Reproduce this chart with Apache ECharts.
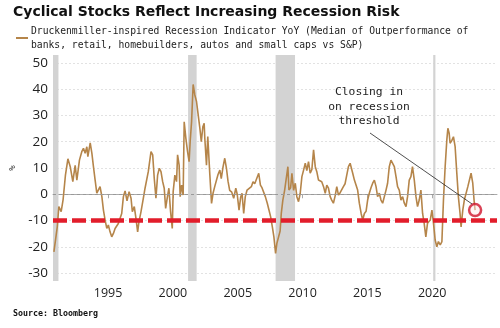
<!DOCTYPE html>
<html><head><meta charset="utf-8">
<script src="https://cdn.jsdelivr.net/npm/echarts@6/dist/echarts.min.js"></script>
<style>html,body{margin:0;padding:0;background:#fff}#c{width:500px;height:328px}</style>
</head><body><div id="c"></div>
<script>
const titleText = 'Cyclical Stocks Reflect Increasing Recession Risk';
const seriesName = 'Druckenmiller-inspired Recession Indicator YoY (Median of Outperformance of\nbanks, retail, homebuilders, autos and small caps vs S&P)';
const sourceText = 'Source: Bloomberg';
const annotationText = 'Closing in\non recession\nthreshold';
const xTicks = [1995, 2000, 2005, 2010, 2015, 2020];
const yTicks = [-30, -20, -10, 0, 10, 20, 30, 40, 50];
const threshold = -10;
const recessions = [[1990.58, 1991.17], [2001.17, 2001.83], [2007.92, 2009.42], [2020.08, 2020.25]];
const years = [1990.82,1991.08,1991.2,1991.38,1991.53,1991.71,1991.9,1992.08,1992.28,1992.46,1992.59,1992.79,1992.97,1993.1,1993.23,1993.36,1993.44,1993.62,1993.75,1993.87,1994.0,1994.13,1994.25,1994.38,1994.52,1994.64,1994.77,1994.9,1995.02,1995.15,1995.28,1995.41,1995.54,1995.67,1995.79,1995.92,1996.05,1996.18,1996.31,1996.46,1996.62,1996.77,1996.87,1997.02,1997.15,1997.28,1997.38,1997.54,1997.72,1997.85,1997.98,1998.1,1998.31,1998.44,1998.56,1998.69,1998.82,1998.95,1999.08,1999.21,1999.33,1999.44,1999.56,1999.69,1999.82,1999.95,2000.02,2000.15,2000.28,2000.36,2000.48,2000.56,2000.67,2000.79,2000.87,2001.0,2001.13,2001.25,2001.33,2001.44,2001.56,2001.69,2001.82,2001.95,2002.08,2002.19,2002.31,2002.41,2002.46,2002.59,2002.69,2002.85,2002.98,2003.1,2003.23,2003.48,2003.62,2003.73,2003.87,2004.0,2004.13,2004.25,2004.38,2004.54,2004.69,2004.85,2004.96,2005.1,2005.23,2005.33,2005.46,2005.58,2005.72,2005.85,2006.05,2006.18,2006.31,2006.44,2006.62,2006.75,2006.87,2007.0,2007.13,2007.28,2007.41,2007.54,2007.67,2007.79,2007.92,2008.02,2008.15,2008.27,2008.36,2008.48,2008.62,2008.75,2008.87,2008.95,2009.08,2009.18,2009.31,2009.44,2009.56,2009.69,2009.82,2009.95,2010.08,2010.21,2010.33,2010.46,2010.59,2010.72,2010.85,2010.98,2011.1,2011.23,2011.36,2011.48,2011.62,2011.75,2011.87,2012.0,2012.13,2012.25,2012.38,2012.52,2012.64,2012.77,2012.9,2013.02,2013.15,2013.28,2013.41,2013.54,2013.67,2013.79,2013.87,2014.0,2014.13,2014.25,2014.38,2014.52,2014.64,2014.77,2014.9,2015.02,2015.15,2015.28,2015.41,2015.54,2015.67,2015.79,2015.92,2016.05,2016.18,2016.31,2016.44,2016.56,2016.69,2016.82,2016.95,2017.08,2017.21,2017.33,2017.46,2017.59,2017.72,2017.85,2017.98,2018.1,2018.23,2018.36,2018.48,2018.62,2018.75,2018.87,2019.0,2019.13,2019.26,2019.38,2019.51,2019.64,2019.85,2019.98,2020.1,2020.23,2020.36,2020.48,2020.62,2020.75,2020.87,2021.0,2021.13,2021.21,2021.31,2021.38,2021.52,2021.64,2021.77,2021.9,2022.02,2022.15,2022.23,2022.36,2022.48,2022.62,2022.75,2022.87,2023.0,2023.13,2023.25,2023.31];
const values = [-21.9,-12.4,-4.7,-6.6,-2.0,7.3,13.5,10.5,4.8,11.0,5.4,13.0,16.2,17.5,15.6,18.1,14.3,19.6,15.6,10.5,5.4,0.4,-0.3,2.9,-0.9,-6.0,-9.8,-13.0,-11.7,-14.3,-16.2,-14.9,-13.0,-13.6,-11.1,-9.2,-7.3,-0.9,1.3,-2.5,1.0,-1.5,-6.6,-4.7,-9.2,-14.3,-10.5,-6.6,-1.5,2.3,2.3,8.6,16.2,15.0,6.1,-1.5,7.3,9.9,8.6,4.8,2.3,-5.4,-1.5,2.3,-6.6,-13.0,1.0,7.3,4.8,15.0,11.1,-0.9,3.5,-0.3,27.6,21.3,16.2,12.4,20.0,27.6,41.8,37.8,35.3,30.2,25.1,20.0,25.7,27.0,21.3,11.1,22.0,7.3,-3.5,0.5,3.0,7.5,9.2,6.0,10.5,13.7,9.9,5.0,1.5,0.8,-1.5,2.3,0.0,-6.0,-1.0,0.4,-7.3,-1.0,1.6,1.5,2.9,4.8,4.0,3.5,8.0,3.5,2.5,3.0,-0.9,-3.4,-6.0,-8.6,-12.4,-16.2,-22.5,-18.7,-18.0,-14.0,-7.3,-2.2,1.6,1.8,10.5,1.6,2.5,8.0,1.5,4.2,-0.9,-2.8,0.4,6.7,9.2,11.8,9.0,12.4,8.0,9.5,16.9,10.5,8.6,5.4,6.0,4.8,2.9,0.4,3.5,2.3,-0.9,-2.2,-3.4,-0.5,2.9,-0.3,0.6,1.0,2.9,4.0,7.3,10.5,11.8,11.2,8.0,5.4,6.0,1.6,-3.4,-7.3,-9.8,-7.3,-6.5,-2.2,0.4,2.5,4.2,5.4,2.9,-0.9,0.4,-2.2,-3.4,-0.9,1.6,4.2,10.5,13.0,13.7,10.5,6.7,2.9,1.6,-2.2,-0.9,-3.4,-4.7,-0.9,5.4,6.7,10.5,5.4,-0.9,-4.7,-2.2,1.6,-7.3,-11.0,-16.2,-11.0,-9.8,-6.0,-11.0,-17.4,-20.0,-18.0,-19.3,-18.0,-2.2,10.5,20.7,25.1,23.2,19.4,20.5,21.9,18.1,8.0,-0.9,-7.3,-12.4,-6.0,-2.2,-2.0,2.9,3.5,8.0,4.2,-3.4,-6.0];

const data = years.map((y, i) => [y, values[i]]);
const last = data[data.length - 1];
const chart = echarts.init(document.getElementById('c'), null, {renderer: 'canvas'});
const lineColor = '#b5854a';
const opt = {
  animation: false,
  backgroundColor: '#fff',
  title: {text: titleText, left: 8, top: 0,
    textStyle: {fontFamily: 'DejaVu Sans', fontWeight: 'bold', fontSize: 14, color: '#111'}},
  legend: {left: 11, top: 19, itemWidth: 12, itemHeight: 2, itemGap: 0, icon: 'rect',
    data: [seriesName],
    textStyle: {fontFamily: 'DejaVu Sans Mono', fontSize: 9.7, lineHeight: 14, color: '#222', padding: [0,0,0,-2]}},
  grid: {left: 52, right: 3, top: 55, bottom: 47},
  xAxis: {type: 'value', min: 1990.75, max: 2025,
    axisLine: {show: true, lineStyle: {color: '#aaa', width: 1}},
    axisTick: {show: true, customValues: xTicks, length: 4, lineStyle: {color: '#aaa'}},
    axisLabel: {customValues: xTicks, formatter: v => String(v), fontFamily: 'Open Sans', fontSize: 12.5, color: '#222', margin: 6},
    splitLine: {show: false}},
  yAxis: {type: 'value', min: -33, max: 53, name: '%', nameLocation: 'middle', nameGap: 36, nameRotate: 90,
    nameTextStyle: {fontFamily: 'DejaVu Sans Mono', fontSize: 9, color: '#333'},
    axisLine: {show: false}, axisTick: {show: false, customValues: yTicks},
    axisLabel: {customValues: yTicks, formatter: v => String(v), fontFamily: 'Open Sans', fontSize: 13.5, color: '#222', margin: 5},
    splitLine: {show: true, lineStyle: {color: '#e2e2e2', type: [2, 2], width: 1}}},
  series: [
    {name: 'helper', type: 'line', data: data, z: 1, silent: true, symbol: 'none',
      lineStyle: {opacity: 0, width: 0}, tooltip: {show: false},
      markArea: {silent: true, itemStyle: {color: '#d3d3d3'},
        data: recessions.map(r => [{xAxis: r[0]}, {xAxis: r[1]}])},
      markLine: {silent: true, symbol: 'none', label: {show: false},
        data: [{yAxis: 0, lineStyle: {color: '#999', type: [3, 3], width: 1}}]}},
    {name: seriesName, type: 'line', data: data, z: 3, symbol: 'none', color: lineColor,
      lineStyle: {color: lineColor, width: 1.6},
      markLine: {silent: true, symbol: 'none', label: {show: false}, z: 5,
        data: [{yAxis: threshold, lineStyle: {color: '#e21d2b', type: [14, 5], width: 4.5}}]}},
    {name: 'marker', type: 'scatter', data: [last], z: 6, symbol: 'circle', symbolSize: 12, silent: true,
      itemStyle: {color: 'rgba(255,235,235,0.6)', borderColor: '#d0142c', borderWidth: 2.5}}
  ]
};
chart.setOption(opt);
const tip = chart.convertToPixel({gridIndex: 0}, last);
chart.setOption({
  graphic: [
    {type: 'text', style: {text: annotationText, x: 369, y: 85, textAlign: 'center',
      font: '11.3px "DejaVu Sans Mono"', lineHeight: 14.5, fill: '#222'}, z: 10},
    {type: 'line', shape: {x1: 370, y1: 133, x2: tip[0] - 3, y2: tip[1] - 6}, style: {stroke: '#222', lineWidth: 0.8}, z: 10},
    {type: 'text', style: {text: sourceText, x: 13, y: 310, font: 'bold 8.3px "DejaVu Sans Mono"', fill: '#111'}, z: 10}
  ]
});
</script></body></html>
